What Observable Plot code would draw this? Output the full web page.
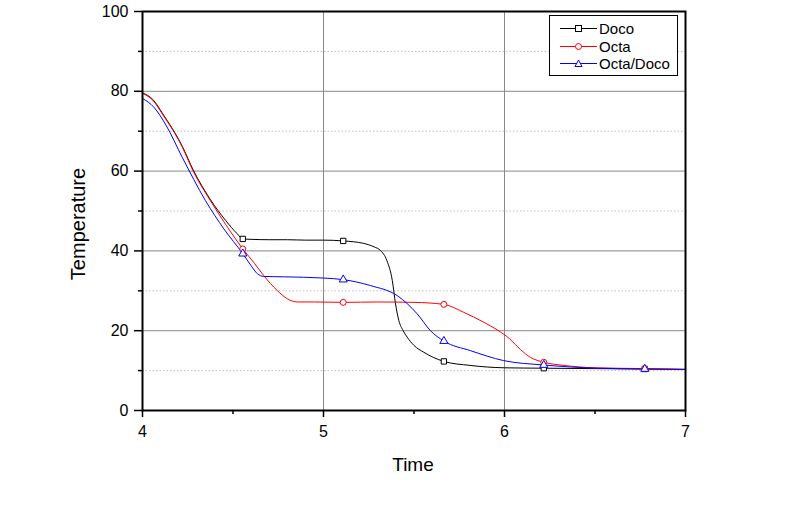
<!DOCTYPE html>
<html>
<head>
<meta charset="utf-8">
<script src="https://cdn.jsdelivr.net/npm/d3@7"></script>
<script src="https://cdn.jsdelivr.net/npm/@observablehq/plot@0.6"></script>
<style>
  html, body { margin: 0; padding: 0; background: #fff; }
  #wrap { position: relative; width: 800px; height: 507px; font-family: Arial, "Liberation Sans", sans-serif; }
  #wrap svg { font-family: Arial, "Liberation Sans", sans-serif; }
  .title { position: absolute; color: #000; white-space: nowrap; }
  #xt { left: 413px; top: 454px; font-size: 19px; transform: translateX(-50%); }
  #yt { left: 78px; top: 224px; font-size: 20px; transform: translate(-50%, -50%) rotate(-90deg); }
  #legend { position: absolute; left: 549px; top: 15px; width: 127px; height: 59px; border: 1px solid #000; background: #fff; font-size: 15px; }
  .row { position: absolute; left: 0; height: 17px; display: flex; align-items: center; }
  .row svg { margin-left: 10px; }
  .row span { margin-left: 2px; line-height: 17px; }
</style>
</head>
<body>
<div id="wrap"></div>
<script>
// ---- data ----
const seriesNames = ["Doco", "Octa", "Octa/Doco"];
const seriesColors = ["#000000", "#ff0000", "#0000ff"];
const seriesSymbols = ["square", "circle", "triangle"];

const docoT = [4.0, 4.06, 4.11, 4.22, 4.28, 4.376, 4.46, 4.523, 4.554, 4.6, 4.7, 4.8, 4.9, 5.0, 5.109, 5.22, 5.28, 5.315, 5.35, 5.38, 5.398, 5.416, 5.44, 5.462, 5.5, 5.554, 5.665, 5.81, 6.0, 6.217, 6.5, 6.775, 7.0];
const docoV = [79.6, 77.8, 74.5, 66.2, 60.3, 52.8, 47.6, 44.3, 43.0, 42.9, 42.8, 42.8, 42.7, 42.7, 42.5, 41.9, 41.0, 40.1, 37.6, 32.6, 26.7, 22.6, 20.0, 18.4, 16.3, 14.6, 12.3, 11.3, 10.7, 10.6, 10.5, 10.4, 10.3];

const octaT = [4.0, 4.06, 4.11, 4.22, 4.28, 4.376, 4.46, 4.554, 4.62, 4.67, 4.744, 4.8, 4.855, 4.95, 5.109, 5.3, 5.5, 5.665, 5.775, 5.886, 5.96, 6.03, 6.09, 6.144, 6.217, 6.328, 6.5, 6.78, 7.0];
const octaV = [79.5, 77.6, 74.3, 66.0, 60.0, 52.5, 46.6, 40.5, 36.8, 33.8, 30.1, 28.0, 27.2, 27.2, 27.1, 27.2, 27.1, 26.6, 24.6, 22.1, 20.2, 17.9, 15.2, 13.3, 12.1, 11.3, 10.7, 10.5, 10.3];

const blendT = [4.0, 4.063, 4.13, 4.219, 4.348, 4.45, 4.554, 4.6, 4.634, 4.67, 4.78, 5.0, 5.109, 5.26, 5.407, 5.518, 5.591, 5.665, 5.812, 5.996, 6.217, 6.512, 6.779, 7.0];
const blendV = [78.2, 76.0, 71.5, 63.5, 52.6, 45.5, 39.3, 36.3, 34.3, 33.6, 33.5, 33.2, 32.8, 31.3, 28.8, 24.2, 20.0, 17.4, 15.0, 12.5, 11.4, 10.6, 10.4, 10.3];

const markerT = [4.554, 5.109, 5.665, 6.217, 6.775];
const docoM = [43.0, 42.5, 12.3, 10.6, 10.4];
const octaM = [40.5, 27.1, 26.6, 12.1, 10.5];
const blendM = [39.3, 32.8, 17.4, 11.4, 10.4];

const xTicks = [4, 5, 6, 7];
const xMinor = [4.5, 5.5, 6.5];
const yTicks = [0, 20, 40, 60, 80, 100];
const yMinor = [10, 30, 50, 70, 90];
const xGrid = [5, 6];
const yGrid = [20, 40, 60, 80];

// ---- build tables ----
const allT = [docoT, octaT, blendT];
const allV = [docoV, octaV, blendV];
const allM = [docoM, octaM, blendM];
const lines = [];
allT.forEach((ts, s) => ts.forEach((t, i) => lines.push({series: seriesNames[s], t, v: allV[s][i]})));
const marks = [];
allM.forEach((ms, s) => ms.forEach((v, i) => marks.push({series: seriesNames[s], t: markerT[i], v})));

const colorScale = {domain: seriesNames, range: seriesColors};
const symbolScale = {domain: seriesNames, range: seriesSymbols};

const chart = Plot.plot({
  width: 800,
  height: 507,
  marginLeft: 142,
  marginRight: 115,
  marginTop: 11,
  marginBottom: 97,
  style: {fontSize: "16px", fontFamily: "Arial, 'Liberation Sans', sans-serif", color: "#000", background: "#fff"},
  x: {domain: [4, 7]},
  y: {domain: [0, 100]},
  color: colorScale,
  symbol: symbolScale,
  marks: [
    Plot.gridY(yMinor, {stroke: "#bfbfbf", strokeOpacity: 1, strokeDasharray: "1.5,2"}),
    Plot.gridY(yGrid, {stroke: "#888", strokeOpacity: 1}),
    Plot.gridX(xGrid, {stroke: "#888", strokeOpacity: 1}),
    Plot.axisX(xTicks, {tickSize: 7, tickPadding: 8, strokeWidth: 1.5, label: null, fontSize: 16, tickFormat: "d"}),
    Plot.axisX(xMinor, {tickSize: 4, text: null, strokeWidth: 1.5, label: null}),
    Plot.axisY(yTicks, {tickSize: 8, tickPadding: 6, strokeWidth: 1.5, label: null, fontSize: 16, tickFormat: "d"}),
    Plot.axisY(yMinor, {tickSize: 4, text: null, strokeWidth: 1.5, label: null}),
    Plot.line(lines, {x: "t", y: "v", z: "series", stroke: "series", strokeWidth: 1, curve: "monotone-x"}),
    Plot.dot(marks, {x: "t", y: "v", symbol: "series", stroke: "series", fill: "white", r: 3, strokeWidth: 1}),
    Plot.frame({stroke: "#000", strokeWidth: 2})
  ]
});

const wrap = document.getElementById("wrap");
wrap.appendChild(chart);

// axis titles
const xt = document.createElement("div");
xt.className = "title"; xt.id = "xt"; xt.textContent = "Time";
wrap.appendChild(xt);
const yt = document.createElement("div");
yt.className = "title"; yt.id = "yt"; yt.textContent = "Temperature";
wrap.appendChild(yt);

// legend
const legend = document.createElement("div");
legend.id = "legend";
const symPaths = {
  square: '<rect x="15.5" y="5.5" width="6" height="6" fill="white"/>',
  circle: '<circle cx="18.5" cy="8.5" r="3" fill="white"/>',
  triangle: '<path d="M18.5,5 L22,11.5 L15,11.5 Z" fill="white"/>'
};
seriesNames.forEach((name, i) => {
  const row = document.createElement("div");
  row.className = "row";
  row.style.top = (4 + i * 17.5) + "px";
  const col = seriesColors[i];
  row.innerHTML = `<svg width="37" height="17" style="overflow:visible"><g stroke="${col}" stroke-width="1"><line x1="0" y1="8.5" x2="37" y2="8.5"/>${symPaths[seriesSymbols[i]]}</g></svg><span>${name}</span>`;
  legend.appendChild(row);
});
wrap.appendChild(legend);
</script>
</body>
</html>
